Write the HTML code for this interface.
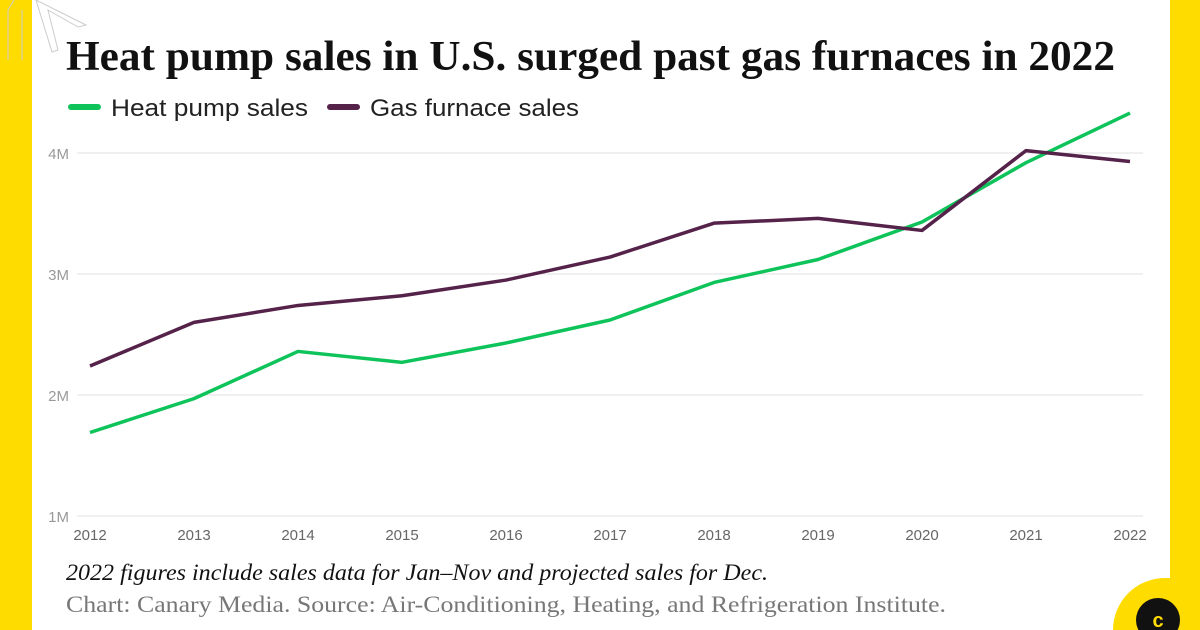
<!DOCTYPE html>
<html><head><meta charset="utf-8"><style>
html,body{margin:0;padding:0;background:#fff;width:1200px;height:630px;overflow:hidden}
svg{display:block}
</style></head><body>
<svg id="c" width="1200" height="630" xmlns="http://www.w3.org/2000/svg">
<rect x="0" y="0" width="1200" height="630" fill="#fff"/>
<rect x="0" y="0" width="32" height="630" fill="#FFDC00"/>
<rect x="1170" y="0" width="30" height="630" fill="#FFDC00"/>
<path d="M1113 630 A52 52 0 0 1 1165 578 L1170 578 L1170 630 Z" fill="#FFDC00"/>
<circle cx="1158" cy="620" r="22" fill="#111"/>
<text x="1158" y="627" text-anchor="middle" font-family="Liberation Sans, sans-serif" font-weight="bold" font-size="20" fill="#FFDC00">c</text>
<g fill="none" stroke="#ccc" stroke-width="1">
<path d="M8 60 L8 10 L14 0 M22 60 L22 10"/><path d="M36 0 L86 25 L78 27 L48 10 L58 50 L52 52 Z"/>
</g>
<text x="66" y="70" textLength="1049" lengthAdjust="spacingAndGlyphs" font-family="Liberation Serif, serif" font-weight="bold" font-size="42" fill="#111">Heat pump sales in U.S. surged past gas furnaces in 2022</text>
<g>
<line x1="71" y1="107" x2="98" y2="107" stroke="#0EC45A" stroke-width="6" stroke-linecap="round"/>
<text x="111" y="116" textLength="197" lengthAdjust="spacingAndGlyphs" font-family="Liberation Sans, sans-serif" font-size="24" fill="#222">Heat pump sales</text>
<line x1="330" y1="107" x2="357" y2="107" stroke="#55224A" stroke-width="6" stroke-linecap="round"/>
<text x="370" y="116" textLength="209" lengthAdjust="spacingAndGlyphs" font-family="Liberation Sans, sans-serif" font-size="24" fill="#222">Gas furnace sales</text>
</g>
<g id="grid"></g><g id="xt"></g><g id="lines"></g>
<text x="66" y="580" textLength="702" lengthAdjust="spacingAndGlyphs" font-family="Liberation Serif, serif" font-style="italic" font-size="23" fill="#111">2022 figures include sales data for Jan–Nov and projected sales for Dec.</text>
<text x="66" y="612" textLength="880" lengthAdjust="spacingAndGlyphs" font-family="Liberation Serif, serif" font-size="23" fill="#777">Chart: Canary Media. Source: Air-Conditioning, Heating, and Refrigeration Institute.</text>
</svg>
<script>
const years=[2012,2013,2014,2015,2016,2017,2018,2019,2020,2021,2022];
const heatPump=[1.69,1.97,2.36,2.27,2.43,2.62,2.93,3.12,3.43,3.92,4.33];
const gasFurnace=[2.24,2.60,2.74,2.82,2.95,3.14,3.42,3.46,3.36,4.02,3.93];
const yTicks=[1,2,3,4];
const yTickLabels=["1M","2M","3M","4M"];
const NS="http://www.w3.org/2000/svg";
const x=i=>90+i*(1040/(years.length-1));
const y=v=>516-(v-1)*121;
function mk(t,a,p){const e=document.createElementNS(NS,t);for(const k in a)e.setAttribute(k,a[k]);p.appendChild(e);return e;}
const grid=document.getElementById('grid');
yTicks.forEach((v,i)=>{
 const l=mk('line',{x1:77,x2:1143,y1:y(v),y2:y(v),stroke:'#e0e0e0','stroke-width':1},grid);
 
 
 const t=mk('text',{x:69,y:y(v)+6,'text-anchor':'end','font-family':'Liberation Sans, sans-serif','font-size':15,fill:'#999'},grid);
 t.textContent=yTickLabels[i];
 
 
});
const xt=document.getElementById('xt');
years.forEach((yr,i)=>{
 const t=mk('text',{x:x(i),y:540,'text-anchor':'middle','font-family':'Liberation Sans, sans-serif','font-size':15,fill:'#666'},xt);
 t.textContent=yr;
 
 
});
const lines=document.getElementById('lines');
function series(vals,color,name){
 const p=mk('polyline',{points:vals.map((v,i)=>x(i)+','+y(v)).join(' '),fill:'none',stroke:color,'stroke-width':3.5,'stroke-linejoin':'round'},lines);
 
 
}
series(heatPump,'#0EC45A','heat-pump-line');
series(gasFurnace,'#55224A','gas-furnace-line');
</script>
</body></html>
